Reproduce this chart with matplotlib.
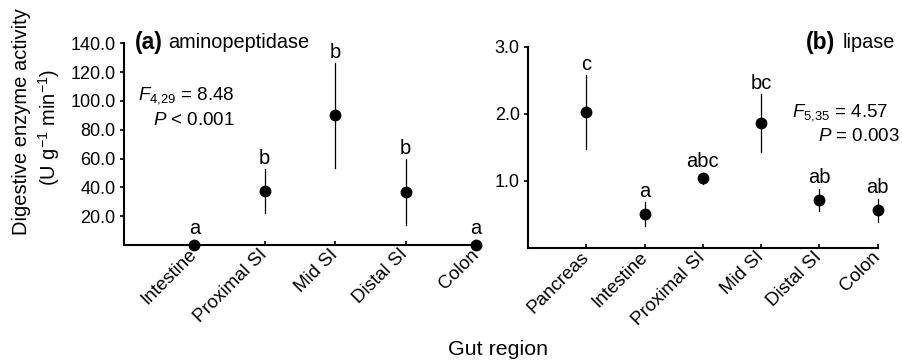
import matplotlib
matplotlib.use("Agg")
import matplotlib.pyplot as plt

plt.rcParams['font.family'] = ['Liberation Sans', 'DejaVu Sans']
plt.rcParams['mathtext.fontset'] = 'custom'
plt.rcParams['mathtext.rm'] = 'Liberation Sans'
plt.rcParams['mathtext.it'] = 'Liberation Sans:italic'
plt.rcParams['mathtext.bf'] = 'Liberation Sans:bold'

# panel (a) aminopeptidase
regions_a = ["Intestine", "Proximal SI", "Mid SI", "Distal SI", "Colon"]
mean_a = [0.3, 37.5, 90.0, 36.8, 0.3]
low_a = [0.0, 22.0, 53.5, 14.0, 0.0]
high_a = [3.5, 52.5, 126.0, 59.5, 3.5]
letters_a = ["a", "b", "b", "b", "a"]

# panel (b) lipase
regions_b = ["Pancreas", "Intestine", "Proximal SI", "Mid SI", "Distal SI", "Colon"]
mean_b = [2.02, 0.51, 1.04, 1.86, 0.71, 0.56]
low_b = [1.47, 0.33, 0.95, 1.43, 0.55, 0.38]
high_b = [2.57, 0.68, 1.12, 2.29, 0.88, 0.73]
letters_b = ["c", "a", "abc", "bc", "ab", "ab"]

fig = plt.figure(figsize=(9.03, 3.63), dpi=100)
ax1 = fig.add_axes([0.1373, 0.325, 0.3897, 0.556])
ax2 = fig.add_axes([0.5847, 0.3176, 0.3873, 0.554])


def draw(ax, regions, mean, low, high, letters, ymax, yticks):
    x = list(range(len(regions)))
    for i in x:
        ax.plot([i, i], [low[i], high[i]], color='black', lw=0.9, clip_on=False)
        ax.annotate(letters[i], (i, max(high[i], low[i])), xytext=(0, 4),
                    textcoords='offset points', ha='center', va='baseline',
                    fontsize=14.5, annotation_clip=False)
    ax.plot(x, mean, 'o', color='black', ms=7.5, clip_on=False, zorder=5)
    ax.set_xlim(-1, len(regions) - 1)
    ax.set_ylim(0, ymax)
    ax.set_yticks(yticks)
    ax.set_yticklabels(["{:.1f}".format(v) for v in yticks], fontsize=13)
    ax.set_xticks(x)
    ax.set_xticklabels(regions, rotation=45, ha='right', va='center',
                       rotation_mode='anchor', fontsize=13.5)
    for s in ['top', 'right']:
        ax.spines[s].set_visible(False)
    for s in ['left', 'bottom']:
        ax.spines[s].set_linewidth(1.5)
    ax.tick_params(axis='y', direction='out', length=3, width=1.2, pad=3)
    ax.tick_params(axis='x', direction='in', length=3, width=1.2, pad=5)


draw(ax1, regions_a, mean_a, low_a, high_a, letters_a, 140,
     [20, 40, 60, 80, 100, 120, 140])
draw(ax2, regions_b, mean_b, low_b, high_b, letters_b, 3.0,
     [1.0, 2.0, 3.0])

fig.text(0.1495, 0.884, "(a)", fontsize=16.5, fontweight='bold', va='center')
fig.text(0.186, 0.882, "aminopeptidase", fontsize=14.3, va='center')
fig.text(0.260, 0.738, r"$\mathit{F}_{\mathit{4{,}29}}$ = 8.48", fontsize=13.5,
         va='center', ha='right')
fig.text(0.260, 0.669, r"$\mathit{P}$ < 0.001", fontsize=13.5, va='center', ha='right')

fig.text(0.925, 0.884, "(b)", fontsize=16.5, fontweight='bold', va='center', ha='right')
fig.text(0.991, 0.882, "lipase", fontsize=14.3, va='center', ha='right')
fig.text(0.983, 0.691, r"$\mathit{F}_{\mathit{5{,}35}}$ = 4.57", fontsize=13.5,
         va='center', ha='right')
fig.text(0.997, 0.623, r"$\mathit{P}$ = 0.003", fontsize=13.5, va='center', ha='right')

fig.text(0.024, 0.664, "Digestive enzyme activity", rotation=90, fontsize=14.5,
         ha='center', va='center')
fig.text(0.054, 0.65, r"(U g$^{-1}$ min$^{-1}$)", rotation=90, fontsize=14.5,
         ha='center', va='center')
fig.text(0.5515, 0.036, "Gut region", fontsize=15.4, ha='center', va='center')

fig.savefig("out.png", dpi=100)
